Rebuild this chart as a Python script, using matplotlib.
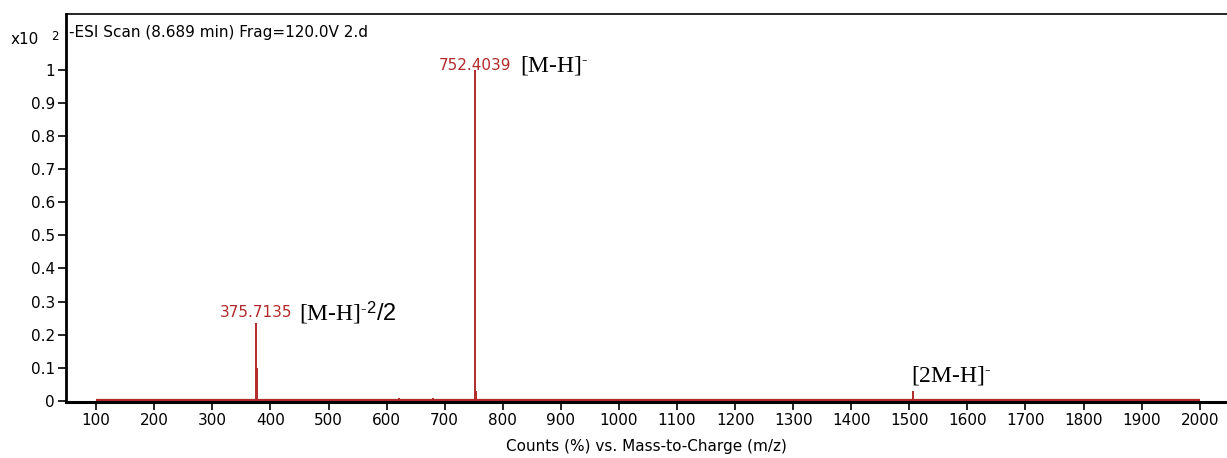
import matplotlib
matplotlib.use("Agg")
import matplotlib.pyplot as plt

# peak list (m/z, relative counts x10^2)
mz = [375.7135, 377.2, 622.0, 680.0, 752.4039, 753.6, 754.6, 1505.8]
counts = [0.235, 0.10, 0.008, 0.008, 1.0, 0.03, 0.012, 0.03]
baseline = 0.003
mz_range = [100, 2000]

xticks = list(range(100, 2001, 100))
yticks = [0, 0.1, 0.2, 0.3, 0.4, 0.5, 0.6, 0.7, 0.8, 0.9, 1]
ytick_labels = ["0", "0.1", "0.2", "0.3", "0.4", "0.5", "0.6", "0.7", "0.8", "0.9", "1"]

red = "#b22a2a"
sans = "DejaVu Sans"
serif = "Liberation Serif"

plt.rcParams["mathtext.fontset"] = "custom"
plt.rcParams["mathtext.rm"] = serif
plt.rcParams["mathtext.it"] = serif + ":italic"
plt.rcParams["mathtext.sf"] = "Liberation Sans"

fig = plt.figure(figsize=(12.27, 4.58), dpi=100)
ax = fig.add_axes([0.0538, 0.1223, 0.9462, 0.8471])

# baseline trace and sticks
ax.plot(mz_range, [baseline, baseline], color=red, lw=1.6, solid_capstyle="butt")
ax.vlines(mz, baseline, counts, color=red, lw=1.4)

ax.set_xlim(48, 2047)
ax.set_ylim(-0.004, 1.17)
ax.set_xticks(xticks)
ax.set_yticks(yticks)
ax.set_yticklabels(ytick_labels)
ax.tick_params(axis="both", direction="out", length=6, width=1.2, labelsize=11, pad=2)
for lab in ax.get_xticklabels() + ax.get_yticklabels():
    lab.set_fontfamily(sans)

ax.spines["left"].set_linewidth(2)
ax.spines["bottom"].set_linewidth(2.2)
ax.spines["top"].set_linewidth(1.2)
ax.spines["right"].set_visible(False)

ax.set_xlabel("Counts (%) vs. Mass-to-Charge (m/z)", fontsize=11, family=sans, labelpad=8)

ax.text(0.003, 0.952, "-ESI Scan (8.689 min) Frag=120.0V 2.d", fontsize=11,
        family=sans, va="center", ha="left", transform=ax.transAxes)
fig.text(0.009, 0.913, "x10", fontsize=11, family=sans, va="center")
fig.text(0.042, 0.921, "2", fontsize=8.5, family=sans, va="center")

# peak labels
ax.text(mz[4], counts[4] - 0.008, f"{mz[4]:.4f}", color=red, fontsize=11,
        family=sans, ha="center", va="bottom")
ax.text(mz[4] + 77, counts[4] - 0.02, r"[M-H]$^{\text{-}}$", fontsize=17,
        family=serif, ha="left", va="bottom")
ax.text(mz[0], counts[0] + 0.01, f"{mz[0]:.4f}", color=red, fontsize=11,
        family=sans, ha="center", va="bottom")
ax.text(mz[0] + 74, counts[0] - 0.008,
        r"[M-H]$^{\text{-}\mathsf{2}}\mathsf{/2}$", fontsize=17,
        family=serif, ha="left", va="bottom")
ax.text(mz[7] - 3, counts[7] + 0.012, r"[2M-H]$^{\text{-}}$", fontsize=17,
        family=serif, ha="left", va="bottom")

fig.savefig("out.png", dpi=100)
